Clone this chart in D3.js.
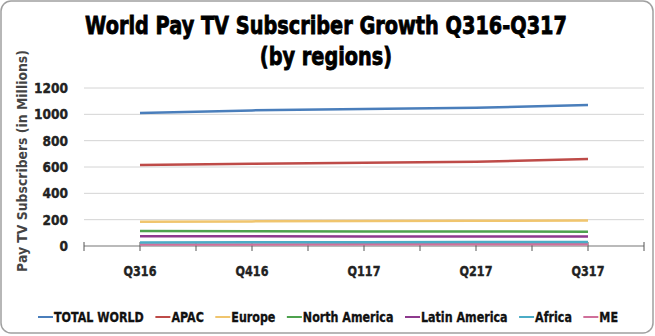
<!DOCTYPE html>
<html><head><meta charset="utf-8">
<script src="https://cdn.jsdelivr.net/npm/d3@7"></script>
<style>
html,body{margin:0;padding:0;background:#fff;}
svg{display:block;}
text{font-family:"DejaVu Sans",sans-serif;}
</style></head>
<body><svg id="chart" width="655" height="336"></svg>
<script>
const quarters = ["Q316","Q416","Q117","Q217","Q317"];
const seriesNames = ["TOTAL WORLD","APAC","Europe","North America","Latin America","Africa","ME"];
const totalWorld = [1010,1030,1040,1050,1070];
const apac = [615,625,632,640,660];
const europe = [185,187,189,192,193];
const northAmerica = [113,112,111,110,109];
const latinAmerica = [74,74,73,73,73];
const africa = [27,28,29,30,31];
const me = [12,12,13,13,14];
const yTicks = [0,200,400,600,800,1000,1200];
const colors = ["#4a7ebb","#be4b48","#f0c56e","#4ea24e","#8e3a8e","#4bacc6","#d0709a"];

const seriesValues = [totalWorld,apac,europe,northAmerica,latinAmerica,africa,me];
const series = seriesNames.map((n,i)=>({name:n,values:seriesValues[i],color:colors[i]}));

function natural(sel){ return sel.node().getComputedTextLength(); }
// horizontally condense a text (anchored at its own x) via a scale transform
function condense(sel, k, x0, y0, rotate){
  sel.attr("x",0).attr("y",0)
     .attr("transform",`translate(${x0},${y0})${rotate?` rotate(${rotate})`:""} scale(${k},1)`);
}

const svg = d3.select("#chart");
svg.append("rect").attr("x",1).attr("y",1).attr("width",652).attr("height",332)
  .attr("rx",10).attr("fill","#fff").attr("stroke","#a0a0a0").attr("stroke-width",1.5);

// title
const t1 = svg.append("text").attr("text-anchor","middle")
  .attr("font-size",25).attr("font-weight","bold").attr("fill","#000")
  .attr("stroke","#000").attr("stroke-width",0.9)
  .text("World Pay TV Subscriber Growth Q316-Q317");
const kTitle = 482 / natural(t1);
condense(t1, kTitle, 326, 34);
const t2 = svg.append("text").attr("text-anchor","middle")
  .attr("font-size",25).attr("font-weight","bold").attr("fill","#000")
  .attr("stroke","#000").attr("stroke-width",0.9)
  .text("(by regions)");
condense(t2, kTitle, 326, 65);

const x = d3.scalePoint().domain(quarters).range([84,644]).padding(0.5);
const y = d3.scaleLinear().domain([0,1200]).range([246,88]);

// gridlines
svg.append("g").selectAll("line").data(yTicks.filter(d=>d>0)).join("line")
  .attr("x1",84).attr("x2",644).attr("y1",d=>y(d)).attr("y2",d=>y(d))
  .attr("stroke","#d4d4d4").attr("stroke-width",1);

// y tick labels
const gy = svg.append("g");
const ky = 34 / (function(){ const t = gy.append("text").attr("font-size",14).attr("font-weight","bold").text("1200"); const w = natural(t); t.remove(); return w; })();
gy.selectAll("text").data(yTicks).join("text")
  .attr("text-anchor","end").attr("font-size",14).attr("font-weight","bold")
  .attr("fill","#222").attr("stroke","#222").attr("stroke-width",0.4).attr("dy","0.36em")
  .text(d3.format("d"))
  .each(function(d){ condense(d3.select(this), ky, 68, y(d)); });

// x axis labels
const gx = svg.append("g");
const kx = 33 / (function(){ const t = gx.append("text").attr("font-size",14).attr("font-weight","bold").text("Q316"); const w = natural(t); t.remove(); return w; })();
gx.selectAll("text").data(quarters).join("text")
  .attr("text-anchor","middle").attr("font-size",14).attr("font-weight","bold")
  .attr("fill","#222").attr("stroke","#222").attr("stroke-width",0.4)
  .text(d=>d)
  .each(function(d){ condense(d3.select(this), kx, x(d), 276); });

// axis line and ticks
svg.append("line").attr("x1",84).attr("x2",644).attr("y1",246).attr("y2",246)
  .attr("stroke","#777").attr("stroke-width",1.2);
const step = x.step();
const tickXs = [];
for(let i=0;i<=quarters.length*2;i++) tickXs.push(84 + i*step/2);
svg.append("g").selectAll("line").data(tickXs).join("line")
  .attr("x1",d=>d).attr("x2",d=>d).attr("y1",242).attr("y2",251)
  .attr("stroke","#555").attr("stroke-width",1);

// lines
const line = d3.line().x((d,i)=>x(quarters[i])).y(d=>y(d));
svg.append("g").selectAll("path").data(series.slice().reverse()).join("path")
  .attr("d",d=>line(d.values)).attr("fill","none").attr("stroke",d=>d.color)
  .attr("stroke-width",2.5);

// y axis title
const yt = svg.append("text")
  .attr("text-anchor","middle").attr("font-size",14).attr("font-weight","bold").attr("fill","#444")
  .text("Pay TV Subscribers (in Millions)");
condense(yt, 222 / natural(yt), 27, 161, -90);

// legend
const leg = svg.append("g");
const items = [];
let kLeg = null;
series.forEach(s=>{
  const g = leg.append("g");
  g.append("line").attr("x1",0).attr("x2",15).attr("y1",0).attr("y2",0)
    .attr("stroke",s.color).attr("stroke-width",2);
  const t = g.append("text").attr("font-size",14).attr("font-weight","bold")
    .attr("fill","#111").attr("stroke","#111").attr("stroke-width",0.35).text(s.name);
  const w0 = natural(t);
  if(kLeg===null) kLeg = 90 / w0;
  condense(t, kLeg, 16, 5);
  items.push({g,w:16+w0*kLeg});
});
const span = 580;
const gap = (span - items.reduce((a,b)=>a+b.w,0)) / (items.length-1);
let lx = 38;
items.forEach(it=>{ it.g.attr("transform",`translate(${lx},317)`); lx += it.w + gap; });
</script>
</body></html>
